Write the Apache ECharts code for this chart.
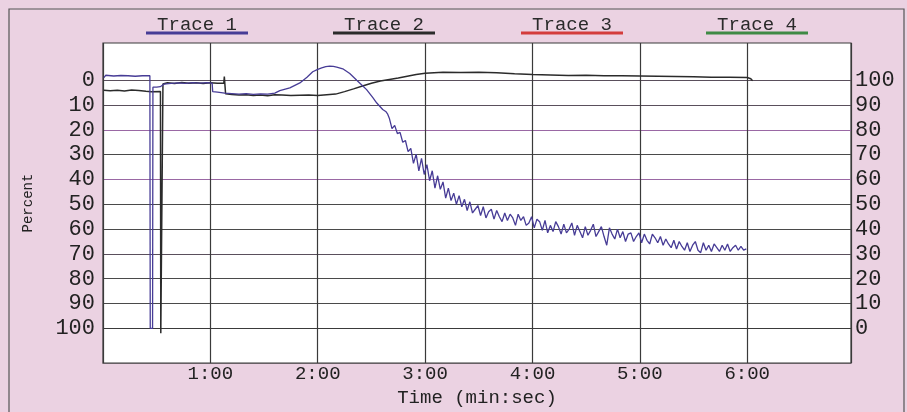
<!DOCTYPE html>
<html><head><meta charset="utf-8">
<script src="https://cdn.jsdelivr.net/npm/echarts@6/dist/echarts.min.js"></script>
<style>html,body{margin:0;padding:0;background:#ebd2e2}#c{width:907px;height:412px}</style>
</head><body><div id="c"></div>
<script>
// ---- data ----
const legendNames = ['Trace 1', 'Trace 2', 'Trace 3', 'Trace 4'];
const traceColors = ['#473c96', '#2b2b2b', '#d43c3c', '#3f8a45'];
const percentTicks = [0, 10, 20, 30, 40, 50, 60, 70, 80, 90, 100];
const timeMax = 418;

// Trace 1: time (s) and percent
const trace1Time = [0.5, 1.5, 6, 10, 14, 18, 22, 26.2, 26.4, 27.7, 27.9, 30, 32, 34, 38, 42, 46, 50, 54, 58, 61, 61.3, 64, 68, 72, 76, 80, 84, 88, 92, 96, 98.8, 104.4, 110, 114, 117.2, 120, 122.2, 124.5, 126.7, 128.7, 130.6, 134, 137.9, 141.8, 144.6, 147.3, 150.7, 153, 156.3, 158, 159.1,
  160, 161.5, 163, 164.5, 166, 167.5, 169, 170.5, 172, 173.5,
  175, 176.5, 178, 179.5, 181, 182.5, 184, 185.5, 187, 188.5,
  190, 191.5, 193, 194.5, 196, 197.5, 199, 200.5, 202, 203.5,
  205, 206.5, 208, 209.5, 211, 212.5, 214, 215.5, 217, 218.5,
  220, 221.5, 223, 224.5, 226, 227.5, 229, 230.5, 232, 233.5,
  235, 236.5, 238, 239.5, 241, 242.5, 244, 245.5, 247, 248.5,
  250, 251.5, 253, 254.5, 256, 257.5, 259, 260.5, 262, 263.5,
  265, 266.5, 268, 269.5, 271, 272.5, 274, 275.5, 277, 278.5,
  280, 281.5, 283, 284.5, 286, 287.5, 289, 290.5, 292, 293.5,
  295, 296.5, 298, 299.5, 301, 302.5, 304, 305.5, 307, 308.5,
  310, 311.5, 313, 314.5, 316, 317.5, 319, 320.5, 322, 323.5,
  325, 326.5, 328, 329.5, 331, 332.5, 334, 335.5, 337, 338.5,
  340, 341.5, 343, 344.5, 346, 347.5, 349, 350.5, 352, 353.5,
  355, 356.5, 358, 359.5];
const trace1Value = [-1.0, -2.0, -1.7, -1.9, -1.8, -1.6, -1.8, -1.8, 100, 100, 2.8, 2.8, 2.6, 1.6, 1.3, 1.1, 1.3, 1.0, 1.2, 1.0, 1.2, 4.6, 4.8, 5.2, 5.4, 5.6, 5.4, 5.7, 5.5, 5.6, 5.2, 4.2, 3.1, 1.1, -1.2, -3.4, -4.4, -5.0, -5.5, -5.7, -5.6, -5.3, -4.6, -2.7, 0, 1.9, 3.8, 6.9, 9.2, 11.8, 12.6, 13.7,
  15.3, 19.5, 18.2, 21.5, 21.0, 25.0, 24.3, 28.8, 27.5, 33.5,
  29.8, 36.5, 31.5, 38.0, 34.0, 40.5, 36.5, 43.5, 38.5, 44.0,
  41.0, 47.5, 43.5, 48.5, 45.5, 50.0, 46.5, 51.0, 48.0, 52.5,
  49.0, 53.5, 52.0, 50.5, 54.5, 51.0, 55.5, 53.0, 52.0, 56.0,
  52.5, 55.0, 57.0, 53.5, 56.5, 54.0, 55.5, 58.5, 54.0, 56.5,
  55.0, 58.5, 57.5, 55.0, 59.5, 56.0, 57.0, 60.5, 56.5, 61.5,
  58.5, 61.0, 57.0, 59.0, 62.0, 58.0, 61.5, 60.0, 57.5, 62.5,
  58.5, 61.0, 63.5, 59.0, 62.5, 60.5, 58.0, 63.0, 61.0, 59.0,
  63.0, 66.5, 59.5, 62.0, 64.0, 60.0, 63.5, 61.0, 65.0, 62.0,
  61.5, 65.0, 63.0, 61.5, 65.5, 62.0, 64.5, 66.0, 62.0, 63.5,
  65.5, 63.0, 66.5, 64.0, 66.0, 67.5, 64.5, 68.0, 65.0, 67.0,
  68.5, 65.5, 69.0, 66.5, 65.0, 68.5, 69.5, 65.5, 68.5, 66.5,
  69.0, 66.0, 67.5, 69.0, 66.5, 68.5, 66.0, 69.0, 67.5, 66.5,
  68.5, 67.0, 68.5, 68.0];

// Trace 2: time (s) and percent
const trace2Time = [0.5, 4, 8, 12, 16, 20, 24, 27, 32.1, 32.3, 33.3, 33.5, 36, 40, 44, 48, 52, 56, 60, 64, 67.5, 67.8, 68.2, 68.5, 72, 76, 80, 84, 88, 92, 96, 100, 105, 110, 115, 120, 125, 130, 135, 140, 145, 150, 155, 160, 165, 170, 175, 180, 185, 190, 200, 210, 220, 230, 240, 250, 260, 270, 280, 290, 300, 310, 320, 330, 340, 350, 360, 362, 363];
const trace2Value = [4.0, 4.2, 4.0, 4.3, 3.9, 4.1, 4.4, 4.6, 4.5, 102, 102, 1.5, 1.0, 1.3, 0.9, 1.2, 1.0, 1.3, 1.0, 1.2, 1.2, -1.5, -1.5, 5.5, 5.8, 6.0, 5.9, 6.2, 6.0, 6.3, 5.9, 6.0, 6.2, 6.1, 6.0, 6.2, 5.9, 5.6, 4.6, 3.5, 2.3, 1.2, 0.3, -0.3, -0.9, -1.6, -2.3, -2.8, -3.0, -3.2, -3.1, -3.2, -3.0, -2.6, -2.3, -2.1, -1.9, -2.0, -1.8, -1.8, -1.7, -1.6, -1.5, -1.4, -1.2, -1.2, -1.1, -0.6, 0.2];

// ---- chart ----
const FONT = 'Liberation Mono';
function pairs(t, v) { return t.map((x, i) => [x, v[i]]); }
function fmtTime(s) { const m = Math.floor(s / 60), r = Math.round(s % 60); return m + ':' + (r < 10 ? '0' : '') + r; }

const gridColors = ['#5a4f5c', '#5a4f5c', '#9a68a4', '#4a4a4a', '#9a68a4', '#4a4a4a', '#4a4a4a', '#5a4f5c', '#4a4a4a', '#4a4a4a', '#3a3a3a'];

const legendCenters = [197, 384, 572, 757];
const graphic = [{
  type: 'rect', shape: { x: 9, y: 9, width: 895, height: 410 },
  style: { fill: 'none', stroke: '#555', lineWidth: 1.2 }, silent: true
}];
legendNames.forEach((n, i) => {
  graphic.push({ type: 'text', x: legendCenters[i], y: 25,
    style: { text: n, font: '19px "Liberation Mono"', fill: '#2a2a2a', textAlign: 'center', textVerticalAlign: 'middle' } });
  graphic.push({ type: 'line', shape: { x1: legendCenters[i] - 51, y1: 33, x2: legendCenters[i] + 51, y2: 33 },
    style: { stroke: traceColors[i], lineWidth: 3 } });
});

const chart = echarts.init(document.getElementById('c'));
chart.setOption({
  backgroundColor: '#ebd2e2',
  animation: false,
  graphic: graphic,
  grid: { left: 103, right: 56, top: 43, bottom: 32, show: true, backgroundColor: '#ffffff', borderColor: '#3a3a3a', borderWidth: 1.2 },
  xAxis: {
    type: 'value', min: 0, max: timeMax, interval: 60,
    axisLine: { show: false }, axisTick: { show: false },
    splitLine: { show: true, lineStyle: { color: '#3a3a3a', width: 1.2 } },
    axisLabel: { formatter: v => (v > 0 && v <= 360) ? fmtTime(v) : '', fontFamily: FONT, fontSize: 19, color: '#222', margin: 1 },
    name: 'Time (min:sec)', nameLocation: 'middle', nameGap: 16,
    nameTextStyle: { fontFamily: FONT, fontSize: 19, color: '#222' }
  },
  yAxis: [{
    type: 'value', inverse: true, min: -15, max: 114,
    axisLine: { show: false },
    axisTick: { show: false, customValues: percentTicks },
    axisLabel: { customValues: percentTicks, fontFamily: FONT, fontSize: 22, color: '#222', margin: 8 },
    splitLine: { show: true, lineStyle: { color: gridColors, width: 1 } },
    name: 'Percent', nameLocation: 'middle', nameGap: 68, nameRotate: 90,
    nameTextStyle: { fontFamily: FONT, fontSize: 14, color: '#222' }
  }, {
    type: 'value', position: 'right', min: -14, max: 115,
    axisLine: { show: false },
    axisTick: { show: false, customValues: percentTicks },
    axisLabel: { customValues: percentTicks, fontFamily: FONT, fontSize: 22, color: '#222', margin: 4 },
    splitLine: { show: false }
  }],
  series: [
    { name: legendNames[0], type: 'line', data: pairs(trace1Time, trace1Value), showSymbol: false, lineStyle: { color: traceColors[0], width: 1.3 }, itemStyle: { color: traceColors[0] }, z: 3 },
    { name: legendNames[1], type: 'line', data: pairs(trace2Time, trace2Value), showSymbol: false, lineStyle: { color: traceColors[1], width: 1.5 }, itemStyle: { color: traceColors[1] }, z: 2 },
    { name: legendNames[2], type: 'line', data: [], showSymbol: false, lineStyle: { color: traceColors[2] } },
    { name: legendNames[3], type: 'line', data: [], showSymbol: false, lineStyle: { color: traceColors[3] } }
  ]
});
</script></body></html>
